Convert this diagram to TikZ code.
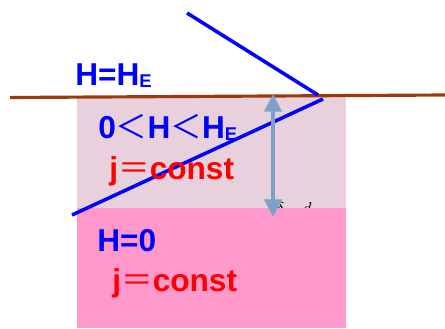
\documentclass[tikz,border=0pt]{standalone}
\usepackage{fontspec}
\setmainfont{Liberation Sans}
\newfontfamily\cjkfont{Noto Sans CJK SC}
\usepackage{tikz}
\usetikzlibrary{positioning,calc,arrows.meta}
\definecolor{LayerLight}{HTML}{E8D0DD}
\definecolor{LayerPink}{HTML}{FF99CC}
\definecolor{Surface}{HTML}{9C3A0A}
\definecolor{FieldBlue}{HTML}{0000FF}
\definecolor{ArrowBlue}{HTML}{7BA3C8}
\newcommand{\wide}[1]{{\cjkfont\mdseries #1}}
\newcommand{\subE}{\raisebox{-1.5pt}{\fontsize{10.5}{12}\selectfont E}}

\begin{document}
\begin{tikzpicture}[x=0.02cm,y=-0.02cm]
			\tikzset{
				fieldtext/.style={text=FieldBlue, font=\bfseries\fontsize{18}{20}\selectfont, inner sep=0pt, anchor=base west},
				currenttext/.style={text=red, font=\bfseries\fontsize{18}{20}\selectfont, inner sep=0pt, anchor=base west},
				boundary/.style={line width=1.8pt},
			}
			\useasboundingbox (0,0) rectangle (445,328);
			
			% layers
			\fill[LayerLight] (77,97) rectangle (346,208);
			\node[inner sep=0pt, anchor=base west, font=\fontsize{9}{9}\selectfont] (depth) at (276,213) {$\delta$\hspace{1.2em}$d$};
			\fill[LayerPink] (77,208) rectangle (346,328);
			
			% surface and lines
			\coordinate (surfL) at (10,97.5);
			\coordinate (surfR) at (445,95);
			\draw[Surface, boundary] (surfL) -- (surfR);
			\coordinate (rayA) at (187,13);
			\coordinate (rayB) at (318,95);
			\draw[FieldBlue, line width=2pt] (rayA) -- (rayB);
			\coordinate (frontA) at (72,215);
			\coordinate (frontB) at (323,99);
			\draw[FieldBlue, line width=2pt] (frontA) -- (frontB);
			
			% depth arrow
			\coordinate (arrTop) at (273,94);
			\coordinate (arrBot) at (273,217);
			\draw[ArrowBlue, line width=2.6pt, {Triangle[width=9.6pt,length=10pt]}-{Triangle[width=9.6pt,length=10pt]}] (arrTop) -- (arrBot);
			
			% labels
			\node[fieldtext] (hTop) at (75,85) {H=H\subE};
			\node[fieldtext] (hMid) at (98,138) {0\wide{＜}H\wide{＜}H\subE};
			\node[currenttext] (jMid) at (109,179) {j\wide{＝}const};
			\node[fieldtext] (hLow) at (97,251) {H=0};
			\node[currenttext] (jLow) at (112,291) {j\wide{＝}const};
		\end{tikzpicture}
\end{document}
